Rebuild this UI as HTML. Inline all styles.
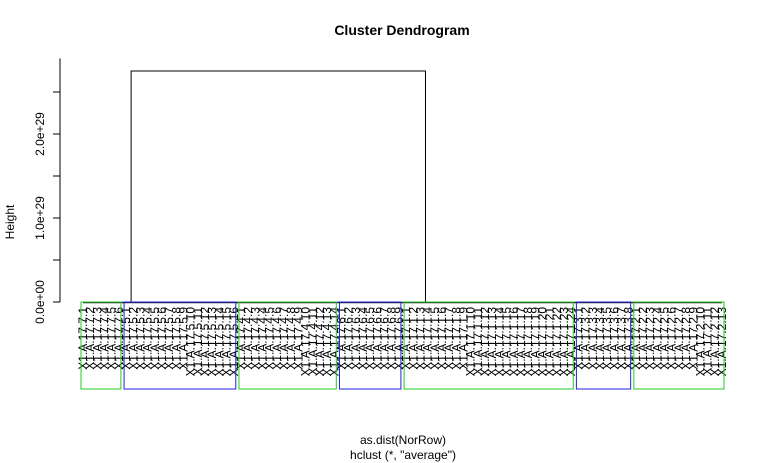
<!DOCTYPE html>
<html><head><meta charset="utf-8"><style>
body{margin:0;background:#fff;}
svg{display:block;font-family:"Liberation Sans",Arial,sans-serif;}
</style></head><body>
<svg id="chart" width="777" height="463">
<text x="402" y="35" text-anchor="middle" font-weight="bold" font-size="14">Cluster Dendrogram</text>
<text x="403" y="444" text-anchor="middle" font-size="12">as.dist(NorRow)</text>
<text x="403" y="459" text-anchor="middle" font-size="12">hclust (*, "average")</text>
<text transform="translate(14,222) rotate(-90)" text-anchor="middle" font-size="12">Height</text>
<g id="axis"></g>
<g id="tree"></g>
<g id="leaves"></g>
<g id="rects"></g>
</svg>
<script>
const groupPrefixes = ["7","5","4","6","1","3","2"];
const groupCounts = [6,16,14,9,24,8,13];
const groupColors = ["#22cc22","#2222dd","#22cc22","#2222dd","#22cc22","#2222dd","#22cc22"];
const topMergeHeight = 2.75e29;
const topMergeLeaves = [6.7, 47.7];
const yTicks = [0, 0.5e29, 1e29, 1.5e29, 2e29, 2.5e29];
const yTickLabels = ["0.0e+00","","1.0e+29","","2.0e+29",""];

const NS="http://www.w3.org/2000/svg";
function mk(t,a,p){const e=document.createElementNS(NS,t);for(const k in a)e.setAttribute(k,a[k]);p.appendChild(e);return e;}
const y=v=>302-v*(168/2e29);
const n=groupCounts.reduce((a,b)=>a+b,0);
const x=i=>83+i*(722-83)/(n-1);
const ax=document.getElementById('axis');
mk('line',{x1:60,x2:60,y1:y(0),y2:y(2.9e29),stroke:'#000'},ax);
yTicks.forEach((v,i)=>{
  const t=mk('line',{x1:53,x2:60,y1:y(v),y2:y(v),stroke:'#000'},ax);
  
  
  if(yTickLabels[i]){
    const l=mk('text',{transform:`translate(44,${y(v)}) rotate(-90)`,'text-anchor':'middle','font-size':12},ax);
    l.textContent=yTickLabels[i];
    
    
  }
});
const tree=document.getElementById('tree');
mk('line',{x1:x(0),x2:x(n-1),y1:y(0)+0.5,y2:y(0)+0.5,stroke:'#222','stroke-width':1.5},tree);
const lx=x(topMergeLeaves[0]),rx=x(topMergeLeaves[1]),ty=y(topMergeHeight);
const br=mk('path',{d:`M${lx},${y(0)}V${ty}H${rx}V${y(0)}`,fill:'none',stroke:'#000'},tree);


const lv=document.getElementById('leaves'),rc=document.getElementById('rects');
let idx=0;
groupCounts.forEach((c,g)=>{
  const start=idx;
  for(let k=0;k<c;k++){
    const t=mk('text',{transform:`translate(${x(idx)+4},307) rotate(-90)`,'text-anchor':'end','font-size':12},lv);
    t.textContent=`X1.A.17.${groupPrefixes[g]}.${k+1}`;
    
    
    idx++;
  }
  const r=mk('rect',{x:x(start)-2,y:y(0),width:x(idx-1)-x(start)+4,height:87,fill:'none',stroke:groupColors[g]},rc);
  
  
});
</script>
</body></html>
